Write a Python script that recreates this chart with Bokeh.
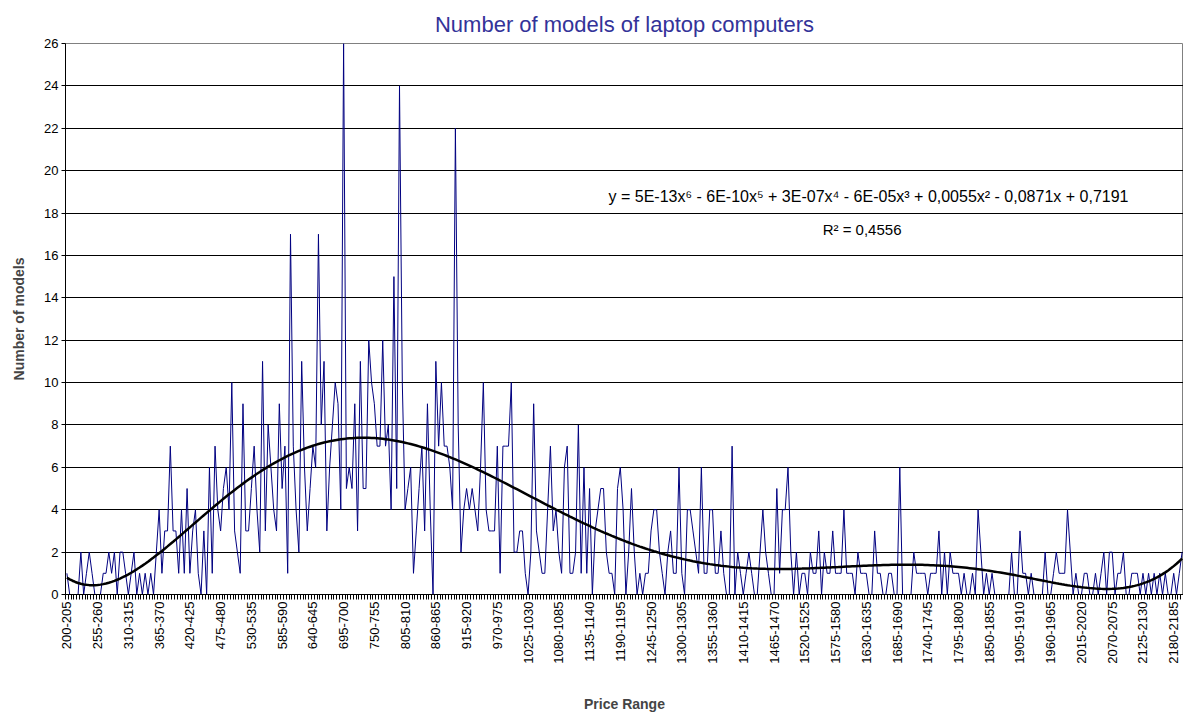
import math
import numpy as np
from bokeh.plotting import figure
from bokeh.models import Range1d, FixedTicker, Label
from bokeh.embed import file_html
from bokeh.resources import INLINE

# ---- data: number of laptop models per 5-unit price bucket (200-205 ... 2195-2200)
seg_200_345 = [1,0,0,0,0,2,0,1,2,1, 0,0,0,1,1,2,1,2,0,2, 2,1,0,1,2,0,1,0,1,0]
seg_350_515 = [1,0,2,4,1,3,3,7,3,3, 1,4,1,5,1,3,4,1,0,3, 0,6,1,7,4,3,5,6,4,10, 3,2,1,9]
seg_520_695 = [3,3,5,7,4,2,11,3,8,6, 4,3,9,5,7,1,17,7,4,2, 11,6,3,5,7,6,17,8,11,3, 6,8,10,9,4,26]
seg_700_865 = [5,6,5,9,3,11,5,5,12,10, 9,7,7,12,7,8,4,15,5,24, 10,4,5,6,1,3,5,7,3,9, 4,0,11,7]
seg_870_1035 = [10,7,7,6,4,22,8,2,4,5, 4,5,4,3,6,10,4,3,3,3, 7,1,7,7,7,10,2,2,3,3, 1,0,2,9]
seg_1040_1200 = [3,2,1,1,4,7,3,4,2,1, 6,7,1,1,2,8,1,6,1,5, 0,3,4,5,5,2,1,1,0,5, 6,4,0]
seg_1205_1365 = [2,5,2,0,1,0,1,1,3,4, 4,2,1,0,2,3,1,1,6,1, 0,4,4,3,2,1,6,1,1,4, 4,1,1]
seg_1370_1525 = [3,1,0,0,7,0,2,1,0,1, 2,1,0,0,2,4,2,1,0,0, 5,1,4,4,6,2,0,2,0,1, 1,0]
seg_1530_1695 = [2,1,1,3,0,2,1,1,3,1, 1,1,4,1,1,1,0,2,1,1, 1,0,0,3,1,1,0,0,1,1, 0,0,6,0]
seg_1700_1865 = [0,0,0,2,1,1,1,1,0,1, 1,1,3,0,2,0,2,1,1,1, 0,1,0,0,1,0,4,2,0,1, 0,1,0,0]
seg_1870_2035 = [0,0,0,0,2,0,0,3,1,1, 0,1,0,0,0,0,2,0,0,1, 2,1,1,1,4,2,0,1,0,0, 1,1,0,0]
seg_2040_2195 = [1,0,1,2,0,2,2,0,1,1, 2,0,0,1,1,1,0,1,0,1, 0,1,0,1,0,1,0,0,1,0, 1,2]

counts = (seg_200_345 + seg_350_515 + seg_520_695 + seg_700_865 + seg_870_1035 +
          seg_1040_1200 + seg_1205_1365 + seg_1370_1525 + seg_1530_1695 +
          seg_1700_1865 + seg_1870_2035 + seg_2040_2195)
price_ranges = [f"{200 + 5 * k}-{205 + 5 * k}" for k in range(len(counts))]
label_every = 11
y_ticks = list(range(0, 27, 2))

equation_text = "y = 5E-13x\u2076 - 6E-10x\u2075 + 3E-07x\u2074 - 6E-05x\u00b3 + 0,0055x\u00b2 - 0,0871x + 0,7191"
r2_text = "R\u00b2 = 0,4556"

n = len(counts)
idx = np.arange(n)
poly = np.polynomial.Polynomial.fit(idx + 1, np.array(counts, dtype=float), 6)
trend = poly(idx + 1)

FONT = "Liberation Sans"

p = figure(frame_width=1118, frame_height=551,
           x_range=Range1d(-0.5, n - 0.5), y_range=Range1d(0, 26),
           output_backend="svg", toolbar_location=None,
           min_border_left=65, min_border_right=0, min_border_top=43, min_border_bottom=120,
           title="Number of models of laptop computers")
p.background_fill_color = "white"
p.border_fill_color = "white"
p.outline_line_color = "#808080"

p.title.align = "center"
p.title.text_font = FONT
p.title.text_font_size = "22px"
p.title.text_font_style = "normal"
p.title.text_color = "#333399"
p.title.standoff = 14

# y axis
p.yaxis.ticker = FixedTicker(ticks=y_ticks)
p.yaxis.axis_label = "Number of models"
p.yaxis.axis_label_text_font = FONT
p.yaxis.axis_label_text_font_size = "14px"
p.yaxis.axis_label_text_font_style = "bold"
p.yaxis.axis_label_standoff = 14
p.yaxis.major_label_text_font = FONT
p.yaxis.major_label_text_font_size = "13px"
p.yaxis.major_label_text_color = "black"
p.yaxis.major_tick_in = 0
p.yaxis.major_tick_out = 4
p.yaxis.major_label_standoff = 3
p.yaxis.minor_tick_line_color = None
p.yaxis.axis_line_color = "black"
p.yaxis.major_tick_line_color = "black"

# x axis
label_pos = list(range(0, n, label_every))
p.xaxis.ticker = FixedTicker(ticks=label_pos, minor_ticks=[k - 0.5 for k in range(n + 1)])
p.xaxis.major_label_overrides = {k: price_ranges[k] for k in label_pos}
p.xaxis.major_label_orientation = math.pi / 2
p.xaxis.major_label_text_font = FONT
p.xaxis.major_label_text_font_size = "13px"
p.xaxis.major_label_text_color = "black"
p.xaxis.major_tick_line_color = None
p.xaxis.major_tick_in = 0
p.xaxis.major_tick_out = 5
p.xaxis.major_label_standoff = 2
p.xaxis.minor_tick_in = 0
p.xaxis.minor_tick_out = 5
p.xaxis.minor_tick_line_color = "black"
p.xaxis.axis_line_color = "black"
p.xaxis.axis_label = "Price Range"
p.xaxis.axis_label_text_font = FONT
p.xaxis.axis_label_text_font_size = "14px"
p.xaxis.axis_label_text_font_style = "bold"
p.xaxis.axis_label_standoff = 29

p.xgrid.visible = False
p.ygrid.grid_line_color = "black"
p.ygrid.grid_line_width = 1

p.line(idx, counts, line_color="#000080", line_width=1)
p.line(idx, trend, line_color="black", line_width=2.5)

p.add_layout(Label(x=286.8, y=18.8, text=equation_text, text_align="center",
                   text_baseline="middle", text_font=FONT, text_font_size="16px",
                   text_color="black"))
p.add_layout(Label(x=284.5, y=17.2, text=r2_text, text_align="center",
                   text_baseline="middle", text_font=FONT, text_font_size="15px",
                   text_color="black"))

open("out.html", "w").write(file_html(p, INLINE))
